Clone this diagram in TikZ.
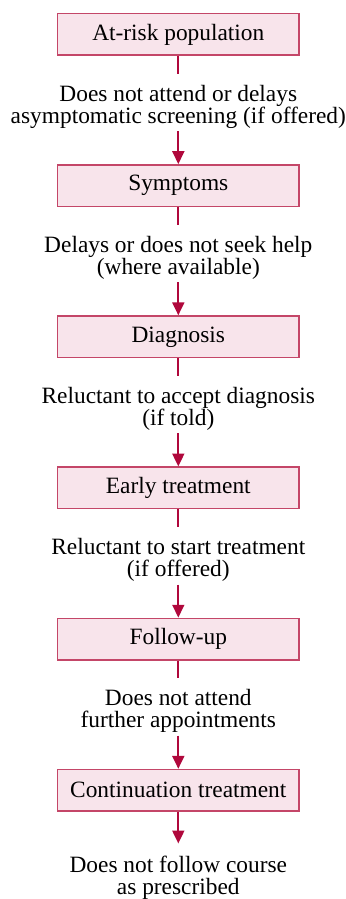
\documentclass[tikz,border=0pt]{standalone}
\usepackage{fontspec}
\setmainfont{Liberation Serif}
\usetikzlibrary{shapes,arrows.meta,positioning}

\definecolor{stagefill}{RGB}{248,228,235}
\definecolor{stageline}{RGB}{196,70,104}
\definecolor{flowred}{RGB}{176,8,60}

\begin{document}
\begin{tikzpicture}[
        font=\fontsize{11.8pt}{11pt}\selectfont,
        stage/.style={rectangle, draw=stageline, fill=stagefill, line width=0.7pt,
            minimum width=122pt, minimum height=21pt, inner sep=0pt},
        reason/.style={align=center, inner sep=0pt},
        link/.style={draw=flowred, line width=1pt, shorten >=5.5pt},
        flow/.style={draw=flowred, line width=1pt,
            -{Triangle[width=6pt,length=6.5pt]}, shorten <=1.3pt}
    ]

        %-----Stages-----
        % At-risk Stage
        \node [stage] (atrisk) {At-risk population};

        % Screening Reason
        \node [reason, below=14.5pt of atrisk] (screen) {%
            Does not attend or delays \\
            asymptomatic screening (if offered)
        };

        % Symptoms Stage
        \node [stage, below=18pt of screen] (symptoms) {Symptoms};

        % Help Reason
        \node [reason, below=14.5pt of symptoms] (help) {%
            Delays or does not seek help \\
            (where available)
        };

        % Diagnosis Stage
        \node [stage, below=18pt of help] (diagnosis) {Diagnosis};

        % Accept Reason
        \node [reason, below=14.5pt of diagnosis] (accept) {%
            Reluctant to accept diagnosis \\
            (if told)
        };

        % Early Treatment Stage
        \node [stage, below=18pt of accept] (early) {Early treatment};

        % Start Reason
        \node [reason, below=14.5pt of early] (start) {%
            Reluctant to start treatment \\
            (if offered)
        };

        % Follow-up Stage
        \node [stage, below=18pt of start] (followup) {Follow-up};

        % Attend Reason
        \node [reason, below=14.5pt of followup] (attend) {%
            Does not attend \\
            further appointments
        };

        % Continuation Stage
        \node [stage, below=18pt of attend] (contin) {Continuation treatment};

        % Course Reason
        \node [reason, below=22pt of contin] (course) {%
            Does not follow course \\
            as prescribed
        };

        %-----Connectors-----
        \draw [link] (atrisk) -- (screen);
        \draw [flow] (screen) -- (symptoms);
        \draw [link] (symptoms) -- (help);
        \draw [flow] (help) -- (diagnosis);
        \draw [link] (diagnosis) -- (accept);
        \draw [flow] (accept) -- (early);
        \draw [link] (early) -- (start);
        \draw [flow] (start) -- (followup);
        \draw [link] (followup) -- (attend);
        \draw [flow] (attend) -- (contin);
        \draw [flow, shorten <=0pt, shorten >=6pt] (contin) -- (course);

        \useasboundingbox ([xshift=-90pt, yshift=6.5pt]atrisk.north) rectangle ++(172pt,-449.5pt);

    \end{tikzpicture}
\end{document}
